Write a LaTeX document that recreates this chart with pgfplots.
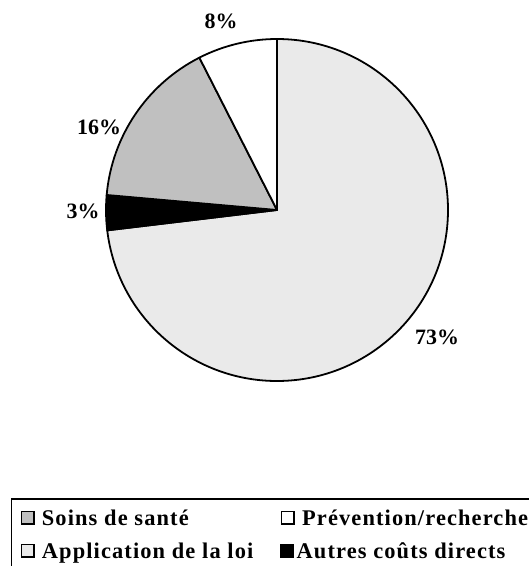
\documentclass[border=0pt]{standalone}
\usepackage{pgfplots}
\pgfplotsset{compat=1.18}
\usepackage{fontspec}
\setmainfont{Liberation Serif}
\newfontfamily\legfont[LetterSpace=5]{Liberation Serif}
\definecolor{soins}{RGB}{192,192,192}
\definecolor{appli}{RGB}{234,234,234}
\begin{document}
\begin{tikzpicture}
\begin{axis}[hide axis, scale only axis, width=529bp, height=566bp,
  xmin=0, xmax=529, ymin=0, ymax=566, y dir=reverse]
\pgfplotsextra{
  \gdef\curang{90}
  \foreach \v/\c in {73.1/appli,3.3/black,16.1/soins,7.5/white}{
    \pgfmathsetmacro\endang{\curang-3.6*\v}
    \filldraw[fill=\c,draw=black,line width=1.8pt,line join=round]
      (axis cs:277,210) -- ++(\curang:171bp)
      arc[start angle=\curang,end angle=\endang,radius=171bp] -- cycle;
    \xdef\curang{\endang}
  }
}
\tikzset{pct/.style={font=\bfseries\fontsize{22}{22}\selectfont, inner sep=0pt}}
\node[pct] at (axis cs:221,21) {8\%};
\node[pct] at (axis cs:99,127) {16\%};
\node[pct] at (axis cs:83,211) {3\%};
\node[pct] at (axis cs:437,337) {73\%};
% legend
\draw[line width=1.3pt] (axis cs:11.7,499) rectangle (axis cs:600,650);
\tikzset{leg/.style={font=\legfont\bfseries\fontsize{22.5}{22.5}\selectfont, inner sep=0pt, anchor=base west}}
\filldraw[fill=soins,draw=black,line width=1.3pt] (axis cs:21.7,511.7) rectangle (axis cs:34,524);
\node[leg] at (axis cs:41.7,525) {Soins de santé};
\filldraw[fill=white,draw=black,line width=1.3pt] (axis cs:281.7,511.7) rectangle (axis cs:294,524);
\node[leg] at (axis cs:302,525) {Prévention/recherche};
\filldraw[fill=appli,draw=black,line width=1.3pt] (axis cs:21.7,544.5) rectangle (axis cs:34,557);
\node[leg] at (axis cs:41.7,558) {Application de la loi};
\filldraw[fill=black,draw=black,line width=1.3pt] (axis cs:280.5,544.5) rectangle (axis cs:293,557);
\node[leg] at (axis cs:296.5,558) {Autres coûts directs};
\end{axis}
\pgfresetboundingbox
\path (current axis.south west) rectangle (current axis.north east);
\end{tikzpicture}
\end{document}
